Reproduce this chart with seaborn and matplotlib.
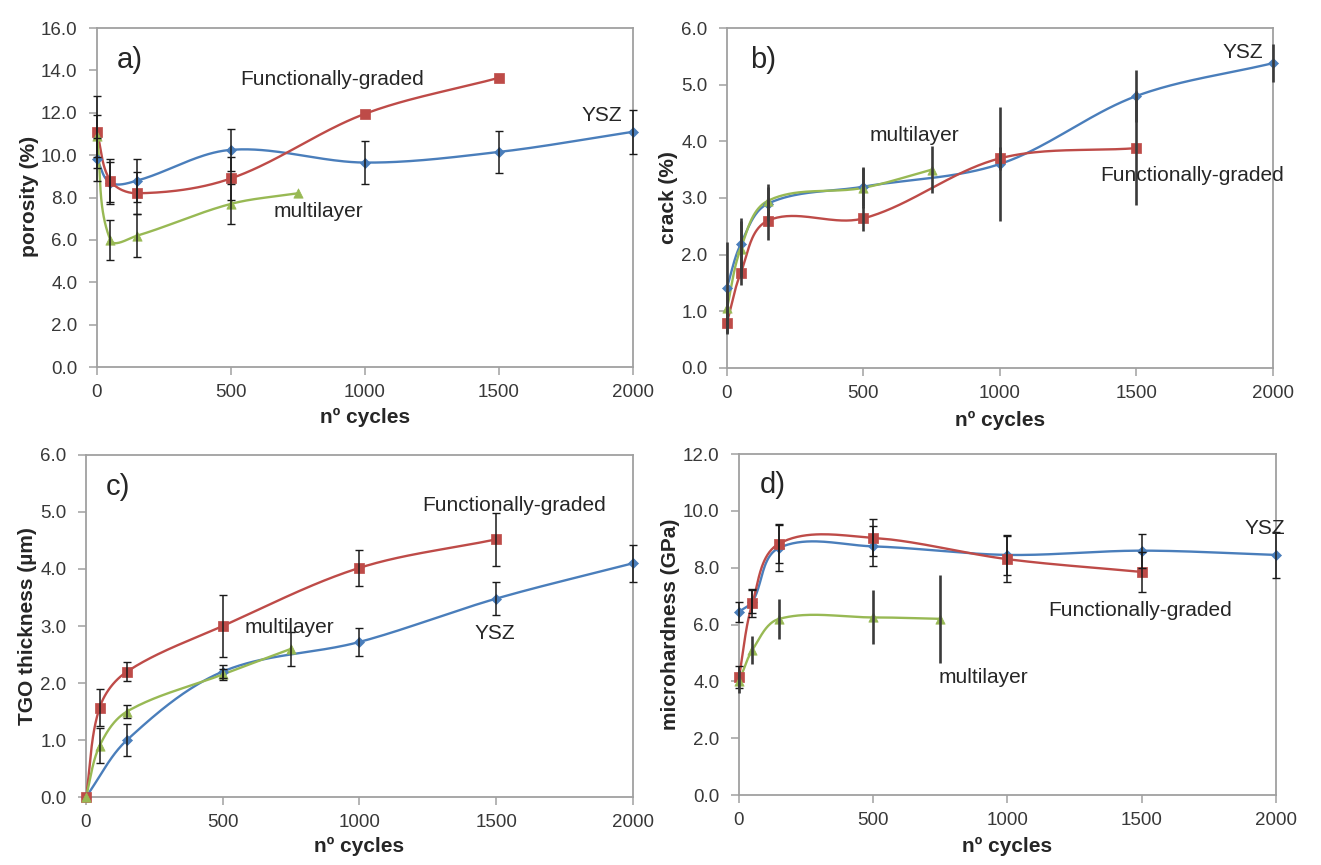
import numpy as np
import matplotlib
matplotlib.use("Agg")
import matplotlib.pyplot as plt
import seaborn as sns

# ---------------- data ----------------
cycles_ysz = [0, 50, 150, 500, 1000, 1500, 2000]
cycles_ysz_tgo = [0, 150, 500, 1000, 1500, 2000]
cycles_fg = [0, 50, 150, 500, 1000, 1500]
cycles_ml = [0, 50, 150, 500, 750]

# a) porosity (%)
por_ysz = [9.8, 8.7, 8.8, 10.25, 9.65, 10.15, 11.1]
por_ysz_err = [1.0, 1.0, 1.0, 1.0, 1.0, 1.0, 1.05]
por_fg = [11.1, 8.8, 8.2, 8.9, 11.95, 13.65]
por_fg_err = [1.7, 1.0, 1.0, 1.0, 0.0, 0.0]
por_ml = [10.9, 6.0, 6.2, 7.7, 8.2]
por_ml_err = [1.0, 0.95, 1.0, 0.95, 0.0]

# b) crack (%)
crk_ysz = [1.42, 2.18, 2.9, 3.2, 3.6, 4.8, 5.38]
crk_ysz_err = [0.8, 0.47, 0.3, 0.35, 1.0, 0.46, 0.33]
crk_fg = [0.8, 1.67, 2.6, 2.64, 3.7, 3.88]
crk_fg_err = [0.2, 0.2, 0.35, 0.22, 0.2, 1.0]
crk_ml = [1.05, 2.1, 2.95, 3.18, 3.5]
crk_ml_err = [0.3, 0.5, 0.3, 0.35, 0.42]

# c) TGO thickness (um)
tgo_ysz = [0.0, 1.0, 2.2, 2.72, 3.48, 4.1]
tgo_ysz_err = [0.0, 0.28, 0.12, 0.25, 0.29, 0.32]
tgo_fg = [0.0, 1.57, 2.2, 3.0, 4.02, 4.52]
tgo_fg_err = [0.0, 0.33, 0.17, 0.55, 0.32, 0.47]
tgo_ml = [0.0, 0.9, 1.5, 2.15, 2.6]
tgo_ml_err = [0.0, 0.31, 0.12, 0.1, 0.3]

# d) microhardness (GPa)
mh_ysz = [6.45, 6.8, 8.7, 8.75, 8.45, 8.6, 8.45]
mh_ysz_err = [0.35, 0.4, 0.8, 0.7, 0.7, 0.6, 0.8]
mh_fg = [4.15, 6.75, 8.85, 9.05, 8.3, 7.85]
mh_fg_err = [0.4, 0.5, 0.7, 0.65, 0.8, 0.7]
mh_ml = [4.0, 5.1, 6.2, 6.25, 6.2]
mh_ml_err = [0.4, 0.5, 0.7, 0.95, 1.55]

y_labels = ["porosity (%)", "crack (%)", "TGO thickness (µm)", "microhardness (GPa)"]
panel_tags = ["a)", "b)", "c)", "d)"]
x_label = "nº cycles"
series_names = ["YSZ", "Functionally-graded", "multilayer"]

# ---------------- style ----------------
sns.set_theme(style="white")
plt.rcParams["font.family"] = ["Liberation Sans", "DejaVu Sans"]

C_YSZ = "#4A7EBB"
C_FG = "#BE4B48"
C_ML = "#98B954"
SPINE = "#A0A0A0"
TXT = "#262626"

fig = plt.figure(figsize=(13.21, 8.65), dpi=100)

panels = [
    dict(pos=[0.0734, 0.5757, 0.4056, 0.3919], ymax=16, step=2.0,
         ysz=(cycles_ysz, por_ysz, por_ysz_err), fg=(cycles_fg, por_fg, por_fg_err),
         ml=(cycles_ml, por_ml, por_ml_err), caps=True,
         tag=(123, 14.5), txt={"Functionally-graded": (877, 13.55), "YSZ": (1884, 11.85),
                               "multilayer": (828, 7.36)},
         ylab=(-0.108, 0.504), xlab=(0.5, -0.122)),
    dict(pos=[0.5503, 0.5746, 0.4133, 0.3930], ymax=6, step=1.0,
         ysz=(cycles_ysz, crk_ysz, crk_ysz_err), fg=(cycles_fg, crk_fg, crk_fg_err),
         ml=(cycles_ml, crk_ml, crk_ml_err), caps=False,
         tag=(132, 5.43), txt={"Functionally-graded": (1703, 3.40), "YSZ": (1890, 5.57),
                               "multilayer": (685, 4.11)},
         ylab=(-0.09, 0.5), xlab=(0.5, -0.126)),
    dict(pos=[0.0651, 0.0786, 0.4140, 0.3954], ymax=6, step=1.0,
         ysz=(cycles_ysz_tgo, tgo_ysz, tgo_ysz_err), fg=(cycles_fg, tgo_fg, tgo_fg_err),
         ml=(cycles_ml, tgo_ml, tgo_ml_err), caps=True,
         tag=(117, 5.44), txt={"Functionally-graded": (1565, 5.12), "YSZ": (1495, 2.86),
                               "multilayer": (742, 2.98)},
         ylab=(-0.09, 0.5), xlab=(0.5, -0.118)),
    dict(pos=[0.5594, 0.0809, 0.4065, 0.3942], ymax=12, step=2.0,
         ysz=(cycles_ysz, mh_ysz, mh_ysz_err), fg=(cycles_fg, mh_fg, mh_fg_err),
         ml=(cycles_ml, mh_ml, mh_ml_err), caps=True,
         tag=(127, 10.9), txt={"Functionally-graded": (1493, 6.51), "YSZ": (1959, 9.39),
                               "multilayer": (912, 4.15)},
         ylab=(-0.11, 0.5), xlab=(0.5, -0.124)),
]


def smooth_curve(x, y, sx, sy, n=40):
    """Excel-like smoothed line through the points (computed in screen proportions)."""
    p = np.column_stack([np.asarray(x, float) * sx, np.asarray(y, float) * sy])
    m = len(p)
    tang = np.zeros_like(p)
    for i in range(m):
        if i == 0:
            d = p[1] - p[0]
        elif i == m - 1:
            d = p[-1] - p[-2]
        else:
            d = p[i + 1] - p[i - 1]
        nrm = np.hypot(*d)
        tang[i] = d / nrm if nrm > 0 else d
    out = []
    t = np.linspace(0, 1, n)[:, None]
    for i in range(m - 1):
        L = np.hypot(*(p[i + 1] - p[i]))
        c0 = p[i]
        c1 = p[i] + tang[i] * L / 3.0
        c2 = p[i + 1] - tang[i + 1] * L / 3.0
        c3 = p[i + 1]
        b = ((1 - t) ** 3) * c0 + 3 * ((1 - t) ** 2) * t * c1 + 3 * (1 - t) * t ** 2 * c2 + t ** 3 * c3
        out.append(b if i == 0 else b[1:])
    out = np.vstack(out)
    return out[:, 0] / sx, out[:, 1] / sy


W, H = 1321, 865
for k, P in enumerate(panels):
    ax = fig.add_axes(P["pos"])
    ax.set_xlim(0, 2000)
    ax.set_ylim(0, P["ymax"])
    sx = P["pos"][2] * W / 2000.0
    sy = P["pos"][3] * H / P["ymax"]

    specs = [("ysz", C_YSZ, "D", 26), ("fg", C_FG, "s", 55), ("ml", C_ML, "^", 45)]
    # lines
    for key, col, mk, ms in specs:
        xs, ys, es = P[key]
        cx, cy = smooth_curve(xs, ys, sx, sy)
        sns.lineplot(x=cx, y=cy, sort=False, estimator=None, color=col, lw=1.7, ax=ax, zorder=3)
    # error bars
    for key, col, mk, ms in specs:
        xs, ys, es = P[key]
        xs_e = [a for a, e in zip(xs, es) if e > 0]
        ys_e = [b for b, e in zip(ys, es) if e > 0]
        es_e = [e for e in es if e > 0]
        if P["caps"] and not (k == 3 and key == "ml"):
            ax.errorbar(xs_e, ys_e, yerr=es_e, fmt="none", ecolor="#1a1a1a",
                        elinewidth=1.1, capsize=3, capthick=1.0, zorder=5, clip_on=False)
        else:
            ax.errorbar(xs_e, ys_e, yerr=es_e, fmt="none", ecolor="#3a3a3a",
                        elinewidth=1.9, capsize=0, zorder=5, clip_on=False)
    # markers
    for key, col, mk, ms in specs:
        xs, ys, es = P[key]
        sns.scatterplot(x=xs, y=ys, marker=mk, color=col, s=ms, edgecolor=col,
                        linewidth=0.5, ax=ax, zorder=4, clip_on=False, legend=False)

    # ticks & spines
    ax.set_xticks([0, 500, 1000, 1500, 2000])
    ax.set_yticks(np.arange(0, P["ymax"] + 0.01, P["step"]))
    ax.set_yticklabels([f"{v:.1f}" for v in np.arange(0, P["ymax"] + 0.01, P["step"])])
    ax.tick_params(axis="both", which="major", direction="out", length=6, width=1.1,
                   color=SPINE, labelsize=13.5, labelcolor="#383838", pad=6,
                   bottom=True, left=True)
    ax.tick_params(axis="y", pad=8)
    for sp in ax.spines.values():
        sp.set_color(SPINE)
        sp.set_linewidth(1.3)
        sp.set_visible(True)

    ax.set_ylabel(y_labels[k], fontsize=15, fontweight="bold", color=TXT)
    ax.set_xlabel(x_label, fontsize=15, fontweight="bold", color=TXT)
    ax.yaxis.set_label_coords(*P["ylab"])
    ax.xaxis.set_label_coords(*P["xlab"])

    ax.text(P["tag"][0], P["tag"][1], panel_tags[k], fontsize=21, color=TXT,
            ha="center", va="center", zorder=6)
    for name, (tx, ty) in P["txt"].items():
        ax.text(tx, ty, name, fontsize=15, color=TXT, ha="center", va="center", zorder=6)

fig.savefig("out.png", dpi=100, facecolor="white")
